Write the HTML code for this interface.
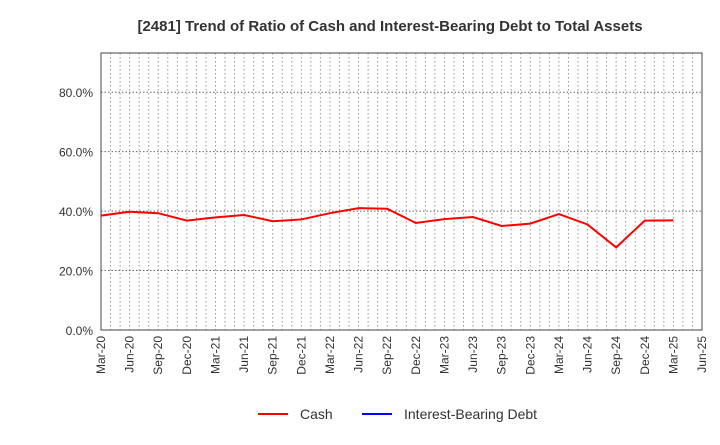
<!DOCTYPE html>
<html><head><meta charset="utf-8"><style>
body{margin:0;background:#fff;font-family:"Liberation Sans",sans-serif}
svg text{font-family:"Liberation Sans",sans-serif}
</style></head><body>
<svg id="c" width="720" height="440">
<text x="390" y="31" text-anchor="middle" font-size="15" font-weight="bold" fill="#333">[2481]  Trend of Ratio of Cash and Interest-Bearing Debt to Total Assets</text>
<g id="grid"></g><g id="axes"></g><g id="series"></g>
<g>
<line x1="258" y1="414" x2="288" y2="414" stroke="#f00" stroke-width="2"/>
<text x="300" y="419" font-size="14" fill="#333">Cash</text>
<line x1="362" y1="414" x2="392" y2="414" stroke="#00f" stroke-width="2"/>
<text x="404" y="419" font-size="14" fill="#333">Interest-Bearing Debt</text>
</g>
</svg>
<script>
const categories=["Mar-20","Jun-20","Sep-20","Dec-20","Mar-21","Jun-21","Sep-21","Dec-21","Mar-22","Jun-22","Sep-22","Dec-22","Mar-23","Jun-23","Sep-23","Dec-23","Mar-24","Jun-24","Sep-24","Dec-24","Mar-25","Jun-25"];
const cash=[38.5,39.8,39.3,36.8,37.9,38.7,36.6,37.2,39.3,41.0,40.8,36.0,37.3,38.0,35.0,35.8,39.0,35.5,27.8,36.8,36.9];
const debt=[];
const yTicks=[0,20,40,60,80];
const L=101,R=702,T=53,B=330,yMax=93.2;
const ns="http://www.w3.org/2000/svg";
const x=i=>L+(R-L)*i/(categories.length-1);
const y=v=>B-(B-T)*v/yMax;
function mk(t,a,p){const e=document.createElementNS(ns,t);for(const k in a)e.setAttribute(k,a[k]);p.appendChild(e);return e;}
const g=document.getElementById('grid'),ax=document.getElementById('axes'),s=document.getElementById('series');
for(let m=1;m<(categories.length-1)*3;m++){const xx=L+(R-L)*m/((categories.length-1)*3);
const l=mk('line',{x1:xx,x2:xx,y1:T,y2:B,stroke:'#999','stroke-dasharray':'1.5,2.5','stroke-width':1},g);
}
yTicks.forEach(v=>{if(v>0){const l=mk('line',{x1:L,x2:R,y1:y(v),y2:y(v),stroke:'#666','stroke-dasharray':'1.5,2','stroke-width':1},g);
}
const t=mk('text',{x:L-8,y:y(v)+5,'text-anchor':'end','font-size':12,fill:'#333'},ax);t.textContent=v.toFixed(1)+'%';
});
const fr=mk('rect',{x:L,y:T,width:R-L,height:B-T,fill:'none',stroke:'#444','stroke-width':1},ax);

categories.forEach((c,i)=>{const t=mk('text',{x:0,y:0,'text-anchor':'end','font-size':12,fill:'#333',transform:`translate(${x(i)+4},${B+6}) rotate(-90)`},ax);t.textContent=c;
});
const p=mk('polyline',{points:cash.map((v,i)=>x(i)+','+y(v)).join(' '),fill:'none',stroke:'#f00','stroke-width':2},s);

if(debt.length){const q=mk('polyline',{points:debt.map((v,i)=>x(i)+','+y(v)).join(' '),fill:'none',stroke:'#00f','stroke-width':2},s);
}
</script>
</body></html>
